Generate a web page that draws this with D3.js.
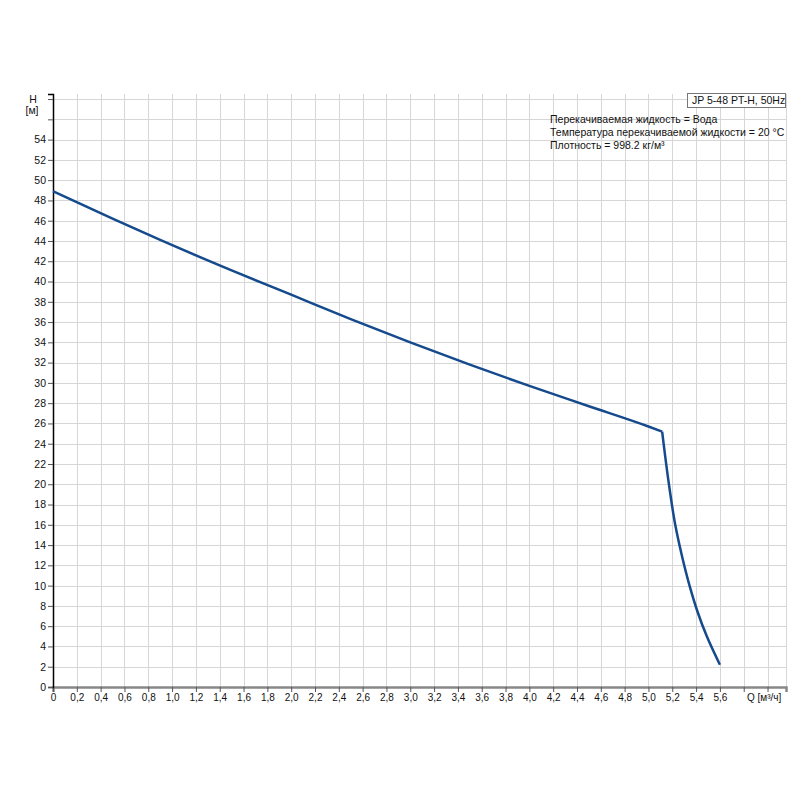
<!DOCTYPE html>
<html>
  <head>
    <meta charset="utf-8" />
    <script src="https://cdn.jsdelivr.net/npm/d3@7/dist/d3.min.js"></script>
    <style>
      body { margin: 0; background: #fff; }
      svg text { font-family: "Liberation Sans", Arial, sans-serif; }
    </style>
  </head>
  <body>
    <svg id="chart"></svg>
    <script>
      // pump curve: Q [m3/h], H [m]
      const flowQ = [0, 0.5, 0.9, 1.5, 2.0, 2.5, 3.0, 3.5, 4.0, 4.5, 5.0, 5.115,
                     5.172, 5.225, 5.28, 5.345, 5.41, 5.49, 5.6];
      const headH = [48.9, 46.2, 44.1, 41.1, 38.7, 36.3, 34.0, 31.8, 29.7, 27.7, 25.7, 25.2,
                     20.0, 16.0, 13.0, 10.0, 7.5, 5.0, 2.2];
      const kneeIndex = 11; // where the curve breaks downward
      const xTicks = d3.range(0, 6.01, 0.2);
      const yTicks = d3.range(0, 58.01, 2);
      const legendTitle = "JP 5-48 PT-H, 50Hz";
      const infoLines = [
        "Перекачиваемая жидкость = Вода",
        "Температура перекачиваемой жидкости = 20 °C",
        "Плотность = 998.2 кг/м³"
      ];

      const width = 800, height = 800;
      const mLeft = 53, mRight = 786, mTop = 94, mBottom = 687;

      const svg = d3.select("#chart").attr("width", width).attr("height", height);

      const x = d3.scaleLinear().domain([0, 6.155]).range([mLeft, mRight]);
      const y = d3.scaleLinear().domain([0, 58.5]).range([mBottom, mTop]);

      const fmt = d => d === 0 ? "0" : d3.format(".1f")(d).replace(".", ",");

      // grid
      svg.append("g")
        .selectAll("line")
        .data(xTicks.filter(d => d > 0).concat([6.155]))
        .join("line")
        .attr("x1", d => Math.round(x(d)) + 0.5).attr("x2", d => Math.round(x(d)) + 0.5)
        .attr("y1", mTop).attr("y2", mBottom)
        .attr("stroke", "#d6d6d6");

      svg.append("g")
        .selectAll("line")
        .data(yTicks.filter(d => d > 0))
        .join("line")
        .attr("x1", mLeft).attr("x2", mRight)
        .attr("y1", d => Math.round(y(d)) + 0.5).attr("y2", d => Math.round(y(d)) + 0.5)
        .attr("stroke", "#d6d6d6");

      // x axis
      const xAxis = svg.append("g")
        .attr("transform", `translate(0,${mBottom})`)
        .call(d3.axisBottom(x).tickValues(xTicks).tickSize(5).tickFormat(d => d > 5.7 ? "" : fmt(d)));
      xAxis.select(".domain").attr("stroke", "#888").attr("stroke-width", 2.5);
      xAxis.selectAll(".tick line").attr("stroke", "#555");
      xAxis.selectAll("text").attr("fill", "#111").attr("font-size", 10).attr("dy", "0.55em");

      // y axis
      const yAxis = svg.append("g")
        .attr("transform", `translate(${mLeft},0)`)
        .call(d3.axisLeft(y).tickValues(yTicks).tickSize(5)
          .tickFormat(d => d > 54 ? "" : d));
      yAxis.select(".domain").attr("stroke", "#000").attr("stroke-width", 1.5);
      yAxis.selectAll(".tick line").attr("stroke", "#555");
      yAxis.selectAll("text").attr("fill", "#111").attr("font-size", 10.5).attr("x", -7);

      // axis titles
      svg.append("text").attr("x", 33).attr("y", 103).attr("text-anchor", "middle")
        .attr("font-size", 10.5).attr("fill", "#111").text("H");
      svg.append("text").attr("x", 32).attr("y", 114).attr("text-anchor", "middle")
        .attr("font-size", 10.5).attr("fill", "#111").text("[м]");
      svg.append("text").attr("x", 747).attr("y", 701)
        .attr("font-size", 10).attr("fill", "#111").text("Q [м³/ч]");

      // curve, drawn in two smooth pieces meeting at the knee
      const pts = flowQ.map((q, i) => [q, headH[i]]);
      const lineX = d3.line().x(d => x(d[0])).y(d => y(d[1])).curve(d3.curveMonotoneX);
      const lineY = d3.line().x(d => x(d[0])).y(d => y(d[1])).curve(d3.curveMonotoneY);
      const pieces = [
        { d: lineX(pts.slice(0, kneeIndex + 1)) },
        { d: lineY(pts.slice(kneeIndex)) }
      ];
      svg.selectAll("path.curve")
        .data(pieces)
        .join("path")
        .attr("class", "curve")
        .attr("fill", "none")
        .attr("stroke", "#154a8c")
        .attr("stroke-width", 2.5)
        .attr("stroke-linejoin", "round")
        .attr("d", d => d.d);

      // legend box
      const lg = svg.append("g");
      const lt = lg.append("text").attr("x", 692).attr("y", 104)
        .attr("font-size", 10.5).attr("fill", "#111").text(legendTitle);
      const bb = lt.node().getBBox();
      lg.insert("rect", "text")
        .attr("x", bb.x - 4.5).attr("y", 93.5)
        .attr("width", mRight - bb.x + 4).attr("height", 14)
        .attr("fill", "#fff").attr("stroke", "#777");

      svg.append("g")
        .selectAll("text")
        .data(infoLines)
        .join("text")
        .attr("x", 550)
        .attr("y", (d, i) => 123 + i * 13)
        .attr("font-size", 10.5)
        .attr("fill", "#111")
        .text(d => d);
    </script>
  </body>
</html>
